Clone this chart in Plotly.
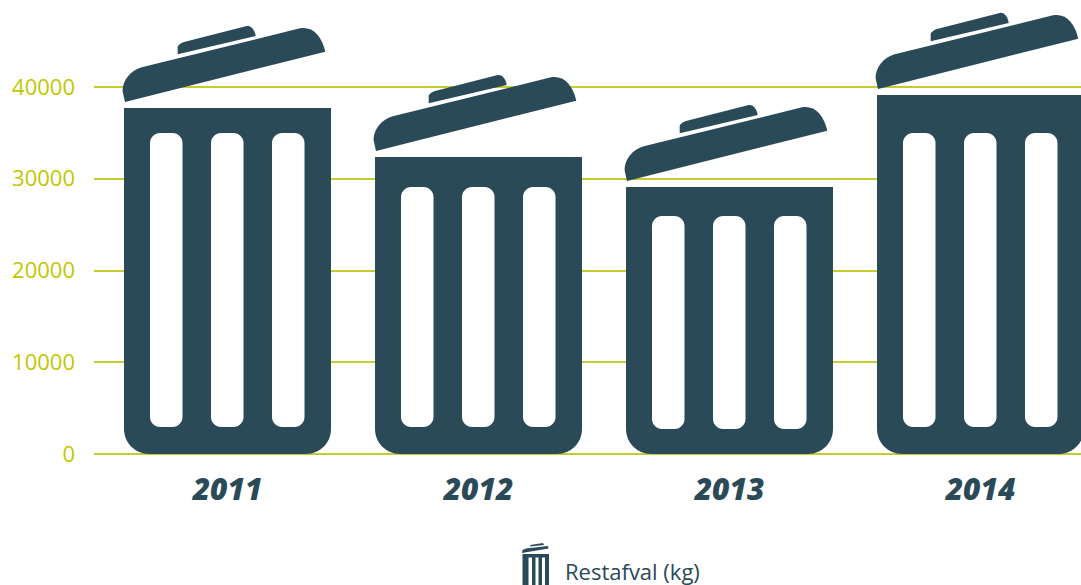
import plotly.graph_objects as go

years = [2011, 2012, 2013, 2014]
restafval_kg = [37710, 32370, 29100, 39130]
slot_tops = [34990, 29100, 25940, 34990]
slot_bottoms = [2940, 2940, 2725, 2940]
y_ticks = [0, 10000, 20000, 30000, 40000]
series_name = "Restafval (kg)"

W, H = 1081, 585
PLOT_L, PLOT_R, PLOT_B = 94, 1081, 454
PX_PER_YEAR = 251.0
PX_PER_UNIT = 367.0 / 40000
X0 = 2011 + (PLOT_L - 227.5) / PX_PER_YEAR
X1 = 2011 + (PLOT_R - 227.5) / PX_PER_YEAR
Y1 = PLOT_B / PX_PER_UNIT
DARK = "#2b4a58"
LIME = "#c4cc2e"
LABEL_LIME = "#bfc800"
FONT = "Open Sans"

dx = lambda p: p / PX_PER_YEAR
dy = lambda p: p / PX_PER_UNIT
BODY_W = dx(207)

fig = go.Figure()
# square upper part of each can; the rounded foot is a shape below
fig.add_bar(x=years, y=[v - dy(28) for v in restafval_kg], base=dy(28), width=BODY_W,
            marker=dict(color=DARK, line_width=0), name=series_name, showlegend=False)


def path(cmds, xc, top):
    out = []
    for c, pts in cmds:
        s = c
        for (px_, py_) in pts:
            s += f" {xc + dx(px_ - 103.5):.5f},{top - dy(py_):.2f}"
        out.append(s)
    return " ".join(out) + " Z"


def round_rect(x0, x1, y0, y1, r_bottom, r_top, fill):
    """x0/x1 in data x, y0/y1 in data y, radii in pixels."""
    k = 0.45
    rxb, ryb, rxt, ryt = dx(r_bottom), dy(r_bottom), dx(r_top), dy(r_top)
    d = (f"M {x0:.5f},{y0 + ryb:.2f} C {x0:.5f},{y0 + ryb * k:.2f} {x0 + rxb * k:.5f},{y0:.2f} {x0 + rxb:.5f},{y0:.2f} "
         f"L {x1 - rxb:.5f},{y0:.2f} C {x1 - rxb * k:.5f},{y0:.2f} {x1:.5f},{y0 + ryb * k:.2f} {x1:.5f},{y0 + ryb:.2f} "
         f"L {x1:.5f},{y1 - ryt:.2f} C {x1:.5f},{y1 - ryt * k:.2f} {x1 - rxt * k:.5f},{y1:.2f} {x1 - rxt:.5f},{y1:.2f} "
         f"L {x0 + rxt:.5f},{y1:.2f} C {x0 + rxt * k:.5f},{y1:.2f} {x0:.5f},{y1 - ryt * k:.2f} {x0:.5f},{y1 - ryt:.2f} Z")
    return dict(type="path", xref="x", yref="y", path=d, fillcolor=fill, line_width=0, layer="above")


LID = [("M", [(1, -6)]), ("L", [(201.3, -56.3)]),
       ("C", [(197.7, -73), (187.7, -82), (176, -79.7)]),
       ("L", [(17.7, -40.7)]),
       ("C", [(6, -37.3), (-2.3, -26.3), (-1.3, -16.3)])]
HANDLE = [("M", [(53.7, -53.7)]), ("L", [(131.7, -72)]),
          ("C", [(131, -78), (127, -83), (122.7, -82)]),
          ("L", [(61, -66.3)]),
          ("C", [(56, -65), (53, -62), (53.7, -59.7)])]

shapes = []
for yr, v, st, sb in zip(years, restafval_kg, slot_tops, slot_bottoms):
    shapes.append(round_rect(yr - BODY_W / 2, yr + BODY_W / 2, 0, dy(30), 25, 0, DARK))
    for off in (-77.5, -16.5, 44.5):
        shapes.append(round_rect(yr + dx(off), yr + dx(off + 32.5), sb, st, 10, 10, "white"))
    for geom in (LID, HANDLE):
        shapes.append(dict(type="path", xref="x", yref="y", path=path(geom, yr, v),
                           fillcolor=DARK, line_width=0, layer="above"))

# legend icon in page pixels
px = lambda x: (x - PLOT_L) / (PLOT_R - PLOT_L)
py = lambda y: (PLOT_B - y) / PLOT_B


def rect(x0, y0, x1, y1):
    return dict(type="rect", xref="paper", yref="paper", x0=px(x0), x1=px(x1), y0=py(y1), y1=py(y0),
                fillcolor=DARK, line_width=0, layer="above")


def poly(pts):
    d = "M " + " L ".join(f"{px(a):.5f},{py(b):.5f}" for a, b in pts) + " Z"
    return dict(type="path", xref="paper", yref="paper", path=d, fillcolor=DARK, line_width=0, layer="above")


shapes += [rect(522.5, 554, 549, 557.5), rect(522.5, 557, 528.5, 585), rect(532, 557, 535.5, 585),
           rect(538.5, 557, 542, 585), rect(545, 557, 549, 585),
           poly([(522, 553), (522.5, 550), (526, 548.5), (548, 546), (548.5, 548.5)]),
           poly([(530, 546.5), (530.5, 545), (543, 543), (544, 545)])]

fig.update_layout(
    width=W, height=H, autosize=False, barmode="overlay", bargap=0, plot_bgcolor="white", paper_bgcolor="white",
    margin=dict(l=PLOT_L, r=W - PLOT_R, t=0, b=H - PLOT_B, pad=0), showlegend=False, shapes=shapes,
    xaxis=dict(range=[X0, X1], tickmode="array", tickvals=years, ticktext=[str(y) for y in years],
               showgrid=False, zeroline=False, showline=False, ticks="",
               tickfont=dict(family=FONT, size=30, color=DARK, weight=800, style="italic"), ticklabelstandoff=15),
    yaxis=dict(range=[0, Y1], tickmode="array", tickvals=y_ticks, ticktext=[str(t) for t in y_ticks],
               showgrid=True, gridcolor=LIME, gridwidth=1.5, zeroline=True, zerolinecolor=LIME, zerolinewidth=1.5,
               showline=False, ticks="", tickfont=dict(family=FONT, size=22, color=LABEL_LIME), ticklabelstandoff=18),
    annotations=[dict(text=series_name, xref="paper", yref="paper", x=px(563), y=py(571), xanchor="left",
                      yanchor="middle", showarrow=False, font=dict(family=FONT, size=22, color=DARK))],
)
fig.write_html("out.html", config=dict(displayModeBar=False), post_script="document.body.style.margin='0';")
